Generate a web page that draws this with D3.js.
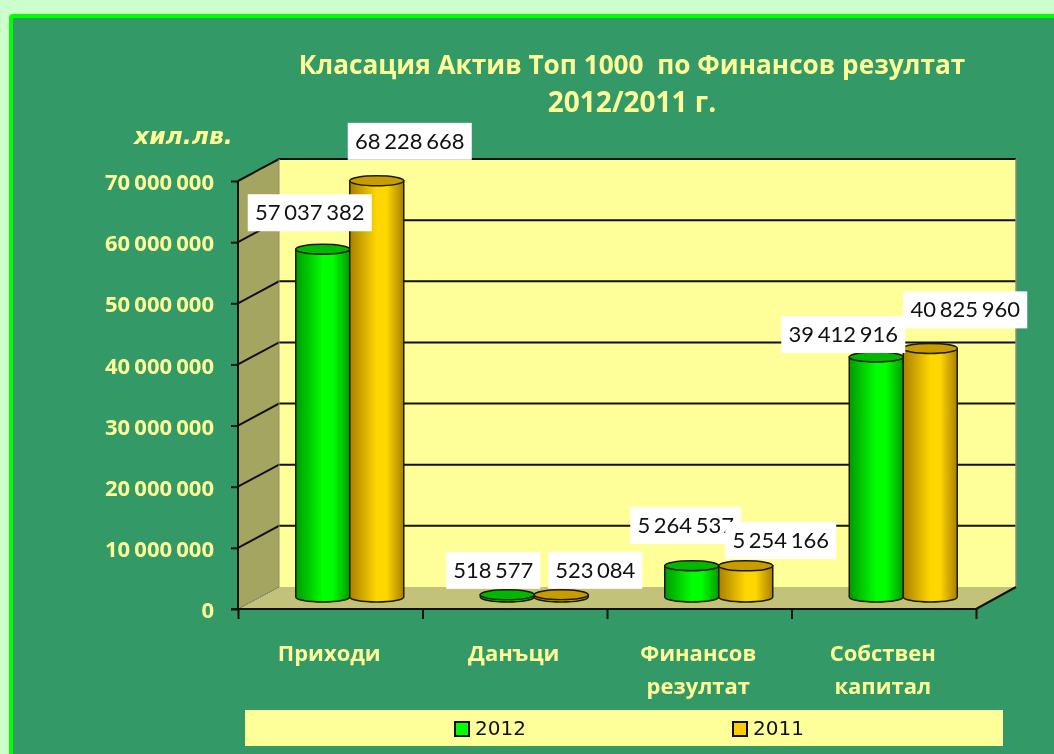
<!DOCTYPE html>
<html><head><meta charset="utf-8">
<script src="https://cdn.jsdelivr.net/npm/d3@7/dist/d3.min.js"></script>
<style>html,body{margin:0;padding:0;background:#CCFFCC;overflow:hidden}svg{display:block;filter:blur(0.4px)}</style>
</head><body><svg id="c" width="1054" height="754"></svg>
<script>
const categories = [["Приходи"],["Данъци"],["Финансов","резултат"],["Собствен","капитал"]];
const seriesNames = ["2012","2011"];
const values2012 = [57037382, 518577, 5264537, 39412916];
const values2011 = [68228668, 523084, 5254166, 40825960];
const tickValues = [0,10000000,20000000,30000000,40000000,50000000,60000000,70000000];
const titleLines = ["Класация Актив Топ 1000  по Финансов резултат","2012/2011 г."];
// hand placement of the value boxes relative to each bar top: [dx, bottom gap]
const nudge2012 = [[-13,17],[-14,5],[-6,21],[-33,3]];
const nudge2011 = [[33,20],[34,5],[35,6],[35,19]];

const fmt = v => d3.format(",")(v).replace(/,/g," ");
const svg = d3.select("#c");
const FB = "'Open Sans',sans-serif";
const Y = "#FFFF99";

const x0 = 238, x1 = 976, y0 = 609, yTop = 181, depthX = 40, depthY = 22;
const x = d3.scaleBand().domain(d3.range(categories.length)).range([x0,x1]);
const y = d3.scaleLinear().domain([0,70000000]).range([y0,yTop]);
const sub = d3.scaleBand().domain([0,1]).range([0,108]);

const defs = svg.append("defs");
function grad(id,edge,mid){
  const g = defs.append("linearGradient").attr("id",id);
  [[0,edge],[.5,mid],[.68,mid],[1,edge]].forEach(s=>g.append("stop").attr("offset",s[0]).attr("stop-color",s[1]));
}
grad("g0","#009a00","#00ff00");
grad("g1","#a97f00","#ffd700");
const colors = [{fill:"url(#g0)",top:"#00B800",sw:"#00FF00"},{fill:"url(#g1)",top:"#C89B00",sw:"#FFCC00"}];

// frame
svg.append("rect").attr("x",11).attr("y",16).attr("width",1060).attr("height",760).attr("rx",2)
  .attr("fill","#339966").attr("stroke","#00FF00").attr("stroke-width",4);

// walls
const poly = (pts,fill)=>svg.append("polygon").attr("points",pts.map(p=>p.join(",")).join(" ")).attr("fill",fill);
poly([[x0,yTop],[x0+depthX+1,yTop-depthY],[x0+depthX+1,y0-depthY],[x0,y0]],"#A5A562");
poly([[x0+depthX+1,yTop-depthY],[x1+depthX,yTop-depthY],[x1+depthX,y0-depthY],[x0+depthX+1,y0-depthY]],Y);
poly([[x0,y0],[x0+depthX+1,y0-depthY],[x1+depthX,y0-depthY],[x1,y0]],"#C2C27A");

// gridlines
const grid = svg.append("g").attr("fill","none").attr("stroke","#111").attr("stroke-width",2);
tickValues.forEach(v=>{
  if(v===0) return;
  const yy=y(v);
  grid.append("path").attr("d",`M${x0},${yy}L${x0+depthX+1},${yy-depthY}L${x1+depthX},${yy-depthY}`);
});
svg.append("line").attr("x1",x0+depthX+1).attr("x2",x0+depthX+1).attr("y1",yTop-depthY).attr("y2",y0-depthY).attr("stroke","#8f8f70").attr("stroke-width",1);
svg.append("line").attr("x1",x1+depthX).attr("x2",x1+depthX).attr("y1",yTop-depthY).attr("y2",y0-depthY).attr("stroke","#8f8f70").attr("stroke-width",1.5);
svg.append("path").attr("d",`M${x0},${y0}L${x0+depthX+1},${y0-depthY}`).attr("stroke","#666").attr("stroke-dasharray","1.5 1").attr("fill","none");
svg.append("path").attr("d",`M${x1},${y0}L${x1+depthX},${y0-depthY}`).attr("stroke","#111").attr("stroke-width",2).attr("fill","none");

// axes
const ya = svg.append("g").attr("transform",`translate(${x0},0)`)
  .call(d3.axisLeft(y).tickValues(tickValues).tickSize(7).tickPadding(17).tickFormat(fmt));
ya.selectAll("line").attr("stroke","#111").attr("stroke-width",2);
ya.select(".domain").attr("stroke","#111").attr("stroke-width",2).attr("d",`M0,${yTop}V${y0}`);
ya.selectAll("text").attr("fill",Y).attr("font-family",FB).attr("font-weight",700).attr("font-size",22)
  .attr("word-spacing",-1.5).attr("dy","0.39em");

const xa = svg.append("g").attr("transform",`translate(0,${y0})`)
  .call(d3.axisBottom(d3.scaleLinear().domain([0,categories.length]).range([x0,x1])).ticks(categories.length).tickSize(10).tickFormat(""));
xa.selectAll("line").attr("stroke","#111").attr("stroke-width",2);
xa.select(".domain").attr("stroke","#111").attr("stroke-width",2).attr("d",`M${x0-7},0H${x1}`);

// category labels
const catText = svg.append("g").selectAll("text").data(categories).join("text")
  .attr("text-anchor","middle").attr("fill",Y).attr("font-family",FB).attr("font-weight",700).attr("font-size",22);
catText.each(function(lines,i){
  d3.select(this).selectAll("tspan").data(lines).join("tspan")
    .attr("x",x(i)+x.bandwidth()/2-1).attr("y",(d,j)=>661+j*33).text(d=>d);
});

// cylinders
const barDX = 20, barDY = -11, ry = 5;
const bars = [];
categories.forEach((c,i)=>{
  [values2012,values2011].forEach((vals,s)=>{
    const left = x(i)+x.bandwidth()/2+barDX-sub.bandwidth()+sub(s)-0.5;
    bars.push({i,s,v:vals[i],left,w:sub.bandwidth(),base:y0+barDY-1,top:y(vals[i])+barDY});
  });
});
const bg = svg.append("g");
bars.forEach(b=>{
  const g=bg.append("g");
  const rx=b.w/2, cx=b.left+rx;
  g.append("path").attr("d",`M${b.left},${b.top}V${b.base}A${rx},${ry} 0 0 0 ${b.left+b.w},${b.base}V${b.top}Z`)
    .attr("fill",colors[b.s].fill).attr("stroke","#1a1a00").attr("stroke-width",1.5);
  g.append("ellipse").attr("cx",cx).attr("cy",b.top).attr("rx",rx).attr("ry",ry)
    .attr("fill",colors[b.s].top).attr("stroke","#1a1a00").attr("stroke-width",1.5);
});

// value labels: 2012 first, so 2011 boxes overlap them
const lg = svg.append("g");
[0,1].forEach(s=>bars.filter(b=>b.s===s).forEach(b=>{
  const n=(s?nudge2011:nudge2012)[b.i];
  const txt=fmt(b.v), W=txt.length>=10?124:(txt.length>=9?111:94), H=37;
  const cx=b.left+b.w/2+n[0], bottom=b.top-n[1]-1;
  lg.append("rect").attr("x",cx-W/2).attr("y",bottom-H).attr("width",W).attr("height",H).attr("fill","#fff");
  lg.append("text").attr("x",cx).attr("y",bottom-11).attr("text-anchor","middle")
    .attr("font-family","Lato,sans-serif").attr("font-size",22).attr("word-spacing",-2).attr("fill","#111").text(txt);
}));

// title
svg.append("g").selectAll("text").data(titleLines).join("text")
  .attr("x",632).attr("y",(d,i)=>74+i*38).attr("text-anchor","middle").attr("xml:space","preserve")
  .style("white-space","pre").attr("fill",Y).attr("font-family",FB).attr("font-weight",700)
  .attr("font-size",(d,i)=>i?28:26.2).text(d=>d);

svg.append("text").attr("x",134).attr("y",144).attr("fill",Y).attr("font-family","'DejaVu Sans',sans-serif")
  .attr("font-weight",700).attr("font-style","italic").attr("font-size",23.5).text("хил.лв.");

// legend
svg.append("rect").attr("x",245).attr("y",710).attr("width",758).attr("height",36).attr("fill",Y);
const legendX = d3.scaleOrdinal().domain(seriesNames).range([455,733]);
seriesNames.forEach((n,i)=>{
  svg.append("rect").attr("x",legendX(n)).attr("y",722).attr("width",14).attr("height",14)
    .attr("fill",colors[i].sw).attr("stroke","#111").attr("stroke-width",2);
  svg.append("text").attr("x",legendX(n)+20).attr("y",735).attr("font-family","'DejaVu Sans',sans-serif")
    .attr("font-size",20).attr("fill","#111").text(n);
});
</script></body></html>
